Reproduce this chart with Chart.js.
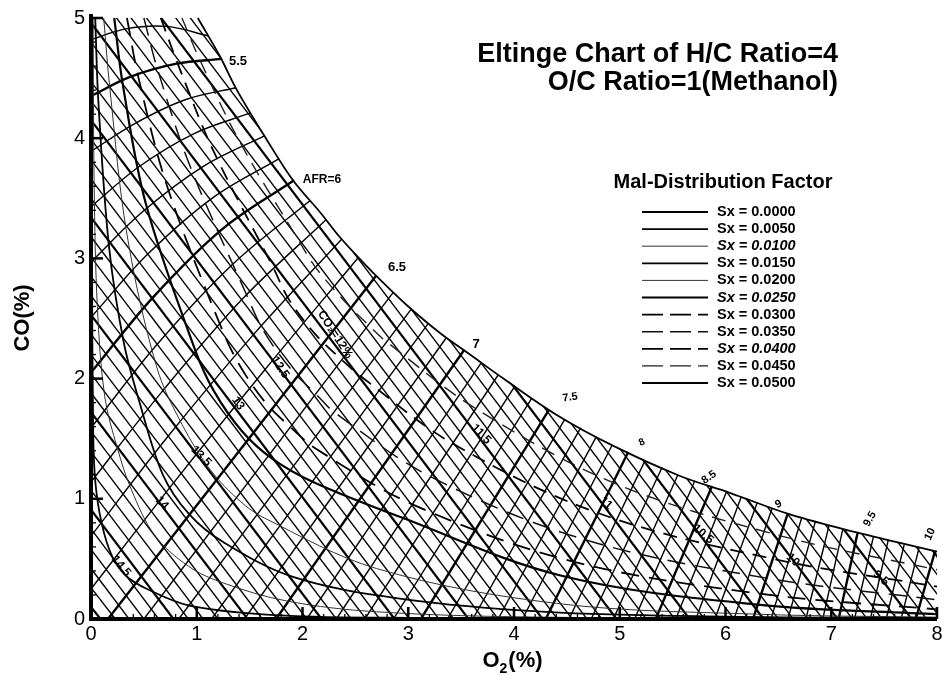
<!DOCTYPE html>
<html>
<head>
<meta charset="utf-8">
<title>Eltinge Chart</title>
<script src="https://cdn.jsdelivr.net/npm/chart.js@4.4.1/dist/chart.umd.min.js"></script>
<style>
  html, body { margin: 0; padding: 0; background: #fff; }
  #wrap { position: relative; width: 946px; height: 680px; }
</style>
</head>
<body>
<div id="wrap"><canvas id="eltinge" width="946" height="680"></canvas></div>
<script>
// x = O2 (%), y = CO (%)
const FONT = "'Liberation Sans', Arial, Helvetica, sans-serif";

// Mal-distribution curves, one array per Sx value
const sxLevels = ['0.0000', '0.0050', '0.0100', '0.0150', '0.0200', '0.0250',
                  '0.0300', '0.0350', '0.0400', '0.0450', '0.0500'];
const sx_0000 = [[0, 5.2], [0, 0], [8, 0]];
const sx_0050 = [[0.01,5.0],[0.01,3.0],[0.02,1.6],[0.04,1.15],[0.10,0.80],[0.20,0.52],[0.33,0.36],[0.53,0.25],[0.94,0.11],[1.79,0.03],[3.0,0.01],[8.0,0.005]];
const sx_0100 = [[0.02,5.0],[0.03,3.6],[0.06,2.6],[0.13,1.85],[0.25,1.42],[0.38,1.08],[0.60,0.70],[0.92,0.44],[1.25,0.30],[1.85,0.15],[2.7,0.06],[4.3,0.015],[8.0,0.005]];
const sx_0150 = [[0.04,5.0],[0.07,4.3],[0.17,3.1],[0.31,2.3],[0.46,1.80],[0.68,1.20],[0.93,0.87],[1.25,0.64],[1.91,0.35],[2.92,0.17],[4.3,0.06],[6.0,0.02],[8.0,0.008]];
const sx_0200 = [[0.12,5.0],[0.18,4.4],[0.34,3.2],[0.62,2.1],[0.86,1.62],[1.13,1.24],[1.41,0.98],[1.64,0.84],[2.7,0.42],[4.4,0.13],[6.3,0.04],[8.0,0.015]];
const sx_0250 = [[0.22,5.0],[0.30,4.45],[0.52,3.45],[0.98,2.25],[1.16,1.90],[1.43,1.56],[1.72,1.33],[2.1,1.14],[2.92,0.85],[4.45,0.36],[6.3,0.12],[8.0,0.04]];
const sx_0300 = [[0.34,5.0],[0.45,4.5],[0.72,3.6],[1.22,2.45],[1.40,2.12],[1.65,1.80],[1.92,1.57],[2.12,1.42],[3.05,0.95],[4.55,0.48],[6.33,0.21],[8.0,0.08]];
const sx_0350 = [[0.50,5.0],[0.63,4.57],[0.94,3.76],[1.47,2.70],[1.63,2.40],[1.88,2.09],[2.14,1.86],[2.30,1.72],[3.22,1.18],[4.67,0.66],[6.39,0.34],[8.0,0.16]];
const sx_0400 = [[0.66,5.0],[0.82,4.62],[1.16,3.89],[1.72,2.93],[1.87,2.66],[2.12,2.37],[2.38,2.15],[2.55,2.02],[3.42,1.46],[4.80,0.88],[6.45,0.50],[8.0,0.27]];
const sx_0450 = [[0.86,5.0],[1.03,4.65],[1.40,3.98],[1.97,3.14],[2.12,2.93],[2.38,2.66],[2.63,2.44],[2.79,2.31],[3.64,1.75],[4.95,1.13],[6.53,0.69],[8.0,0.41]];
const sx_0500 = [[1.01,5.0],[1.22,4.68],[1.38,4.40],[1.66,3.99],[1.91,3.65],[2.17,3.38],[2.35,3.18],[2.57,2.97],[2.76,2.80],[3.0,2.60],[3.3,2.38],[3.6,2.19],[3.9,2.0],[4.4,1.70],[4.94,1.44],[5.57,1.19],[6.04,1.05],[6.61,0.87],[7.24,0.72],[8.0,0.56]];
const sxCurves = [sx_0000, sx_0050, sx_0100, sx_0150, sx_0200, sx_0250,
                  sx_0300, sx_0350, sx_0400, sx_0450, sx_0500];

// Rich air/fuel ratio lines: start on the CO axis, end on the Sx=0.05 curve
const afrRichLevels = [5.4, 5.5, 5.6, 5.7, 5.8, 5.9, 6.0, 6.1, 6.2, 6.3, 6.4];
const afrRichPaths = [
  [[0,4.82],[0.33,4.91],[0.72,4.93],[1.11,4.85]],
  [[0,4.35],[0.37,4.51],[0.81,4.62],[1.24,4.66]],
  [[0,3.89],[0.41,4.12],[0.89,4.32],[1.37,4.42]],
  [[0,3.43],[0.45,3.76],[0.98,4.04],[1.51,4.21]],
  [[0,2.97],[0.49,3.39],[1.07,3.77],[1.64,4.02]],
  [[0,2.51],[0.53,3.03],[1.16,3.51],[1.78,3.83]],
  [[0,2.05],[0.58,2.67],[1.25,3.25],[1.92,3.65]],
  [[0,1.59],[0.62,2.28],[1.35,2.96],[2.07,3.48]],
  [[0,1.14],[0.67,1.89],[1.44,2.67],[2.22,3.32]],
  [[0,0.69],[0.71,1.50],[1.54,2.37],[2.37,3.16]],
  [[0,0.25],[0.76,1.11],[1.65,2.08],[2.53,3.01]]
];

// Lean air/fuel ratio lines: start on the O2 axis, end on the Sx=0.05 curve
const afrLeanLevels = [6.5, 6.6, 6.7, 6.8, 6.9, 7.0, 7.1, 7.2, 7.3, 7.4, 7.5, 7.6, 7.7, 7.8, 7.9,
                       8.0, 8.1, 8.2, 8.3, 8.4, 8.5, 8.6, 8.7, 8.8, 8.9, 9.0, 9.1, 9.2, 9.3, 9.4,
                       9.5, 9.6, 9.7, 9.8, 9.9, 10.0];
const afrLeanStartO2 = [0.16,0.50,0.83,1.14,1.45,1.75,2.04,2.32,2.59,2.86,3.12,3.37,3.61,3.85,4.08,
                        4.30,4.52,4.73,4.94,5.14,5.34,5.53,5.72,5.90,6.08,6.26,6.43,6.59,6.76,6.92,
                        7.07,7.22,7.37,7.52,7.66,7.80];
const afrLeanEnd = [[2.70,2.86],[2.86,2.72],[3.03,2.58],[3.19,2.46],[3.36,2.34],[3.53,2.24],[3.69,2.13],[3.85,2.03],
                    [4.01,1.94],[4.17,1.84],[4.33,1.74],[4.48,1.66],[4.63,1.59],[4.78,1.52],[4.93,1.45],[5.08,1.39],
                    [5.24,1.32],[5.40,1.26],[5.55,1.20],[5.71,1.15],[5.87,1.10],[6.01,1.06],[6.15,1.02],[6.30,0.97],
                    [6.44,0.92],[6.59,0.88],[6.72,0.84],[6.85,0.81],[6.98,0.78],[7.11,0.75],[7.25,0.72],[7.40,0.69],
                    [7.54,0.66],[7.69,0.62],[7.83,0.59],[7.98,0.56]];

// CO2 lines: CO axis intercept to O2 axis intercept (clipped to the Sx=0.05 region)
const co2Levels = [15.0,14.9,14.8,14.7,14.6,14.5,14.4,14.3,14.2,14.1,14.0,13.9,13.8,13.7,13.6,13.5,13.4,13.3,13.2,13.1,
                   13.0,12.9,12.8,12.7,12.6,12.5,12.4,12.3,12.2,12.1,12.0,11.9,11.8,11.7,11.6,11.5,11.4,11.3,11.2,11.1,
                   11.0,10.9,10.8,10.7,10.6,10.5,10.4,10.3,10.2,10.1,10.0,9.9,9.8,9.7,9.6,9.5,9.4,9.3,9.2,9.1,9.0];
const co2AxisCO = [0.10,0.26,0.42,0.58,0.75,0.91,1.07,1.23,1.39,1.56,1.72,1.88,2.04,2.20,2.37,2.53,2.69,2.85,3.01,3.18,
                   3.34,3.50,3.66,3.82,3.99,4.15,4.31,4.47,4.63,4.80,4.96,5.12,5.28,5.44,5.61,5.77,5.93,6.09,6.25,6.42,
                   6.58,6.74,6.90,7.06,7.23,7.39,7.55,7.71,7.87,8.04,8.20,8.36,8.52,8.68,8.85,9.01,9.17,9.33,9.49,9.66,9.82];
const co2AxisO2 = [0.09,0.23,0.36,0.50,0.64,0.78,0.92,1.06,1.20,1.34,1.48,1.62,1.76,1.90,2.04,2.18,2.32,2.46,2.60,2.73,
                   2.87,3.01,3.15,3.29,3.43,3.57,3.71,3.85,3.99,4.13,4.27,4.41,4.55,4.69,4.83,4.97,5.11,5.25,5.39,5.52,
                   5.66,5.80,5.94,6.08,6.22,6.36,6.50,6.64,6.78,6.92,7.06,7.20,7.34,7.48,7.62,7.76,7.90,8.04,8.18,8.32,8.45];

// In-plot labels
const afrLabelText = ['5.5', 'AFR=6', '6.5', '7', '7.5', '8', '8.5', '9', '9.5', '10'];
const afrLabelAt = [[1.39,4.635],[2.184,3.654],[2.894,2.924],[3.641,2.284],[4.53,1.844],
                    [5.21,1.47],[5.844,1.179],[6.501,0.955],[7.366,0.831],[7.934,0.706]];
const co2LabelText = ['14.5', '14', '13.5', '13', '12.5', 'CO\u2082=12%', '11.5', '11', '10.5', '10', '9.5'];
const co2LabelAt = [[0.284,0.44],[0.671,0.963],[1.04,1.354],[1.39,1.794],[1.787,2.093],[2.307,2.367],
                    [3.688,1.537],[4.87,0.963],[5.787,0.706],[6.638,0.49],[7.47,0.34]];

// styles
const sxWidths = [4, 1.8, 1.0, 1.8, 1.0, 2.2, 1.8, 1.5, 1.8, 1.4, 1.8];
const sxDashes = [[], [], [], [], [], [], [18, 10], [18, 10], [14, 9], [14, 9], []];
const sxColors = ['#000', '#000', '#333', '#000', '#333', '#000', '#000', '#111', '#000', '#222', '#000'];
const sxItalic = [false, false, true, false, false, true, false, false, true, false, false];
const afrLabelAngle = [0, 0, 0, 0, -8, -25, -35, -25, -60, -65];
const afrLabelSize = [13, 12, 13, 13, 11, 10, 11, 11, 11, 11];
const co2LabelAngle = [50, 45, 45, 55, 56, 57, 45, 42, 40, 42, 40];

const toXY = pts => pts.map(([x, y]) => ({ x, y }));
const isMajor = v => Math.round(v * 10) % 5 === 0;

function buildDatasets() {
  const sets = [];
  // first dataset is painted on top
  sxCurves.forEach((curve, i) => {
    sets.push({
      data: toXY(curve),
      borderColor: sxColors[i],
      borderWidth: sxWidths[i],
      borderDash: sxDashes[i],
      tension: i === 0 ? 0 : 0.35,
      clip: 4
    });
  });
  afrRichLevels.forEach((a, i) => {
    sets.push({
      data: toXY(afrRichPaths[i]),
      borderColor: '#000',
      borderWidth: isMajor(a) ? 2.4 : 1.4,
      tension: 0.35
    });
  });
  afrLeanLevels.forEach((a, i) => {
    sets.push({
      data: toXY([[afrLeanStartO2[i], 0], afrLeanEnd[i]]),
      borderColor: '#000',
      borderWidth: isMajor(a) ? 2.4 : 1.4,
      tension: 0
    });
  });
  co2Levels.forEach((c, i) => {
    sets.push({
      data: toXY([[0, co2AxisCO[i]], [co2AxisO2[i], 0]]),
      borderColor: '#000',
      borderWidth: isMajor(c) ? 2.2 : 1.35,
      tension: 0,
      clipToEnvelope: true
    });
  });
  return sets.map(s => Object.assign({ showLine: true, pointRadius: 0, fill: false }, s));
}

// keep the CO2 hatch inside the Sx = 0.05 boundary
const envelopeClip = {
  id: 'envelopeClip',
  beforeDatasetDraw(chart, args) {
    if (!chart.data.datasets[args.index].clipToEnvelope) return;
    const { ctx, scales: { x, y } } = chart;
    ctx.save();
    ctx.beginPath();
    ctx.moveTo(x.getPixelForValue(0), y.getPixelForValue(0));
    ctx.lineTo(x.getPixelForValue(0), y.getPixelForValue(5));
    sx_0500.forEach(([vx, vy]) => ctx.lineTo(x.getPixelForValue(vx), y.getPixelForValue(vy)));
    ctx.lineTo(x.getPixelForValue(8), y.getPixelForValue(0));
    ctx.closePath();
    ctx.clip();
  },
  afterDatasetDraw(chart, args) {
    if (chart.data.datasets[args.index].clipToEnvelope) chart.ctx.restore();
  }
};

function drawText(ctx, text, px, py, angle, font, align) {
  ctx.save();
  ctx.translate(px, py);
  ctx.rotate(angle * Math.PI / 180);
  ctx.font = font;
  ctx.textAlign = align || 'center';
  ctx.textBaseline = 'middle';
  ctx.fillText(text, 0, 0);
  ctx.restore();
}

const chartText = {
  id: 'chartText',
  afterDraw(chart) {
    const { ctx, scales: { x, y }, chartArea } = chart;
    ctx.save();
    ctx.fillStyle = '#000';
    ctx.strokeStyle = '#000';

    // inward ticks
    for (let i = 0; i <= 40; i++) {
      const px = x.getPixelForValue(i * 0.2);
      const major = i % 5 === 0;
      ctx.lineWidth = major ? 2.5 : 1.3;
      ctx.beginPath();
      ctx.moveTo(px, chartArea.bottom);
      ctx.lineTo(px, chartArea.bottom - (major ? 12 : 5));
      ctx.stroke();
    }
    for (let i = 0; i <= 25; i++) {
      const py = y.getPixelForValue(i * 0.2);
      const major = i % 5 === 0;
      ctx.lineWidth = major ? 2.5 : 1.3;
      ctx.beginPath();
      ctx.moveTo(chartArea.left, py);
      ctx.lineTo(chartArea.left + (major ? 12 : 5), py);
      ctx.stroke();
    }

    // labels along the curves
    afrLabelText.forEach((t, i) => {
      drawText(ctx, t, x.getPixelForValue(afrLabelAt[i][0]), y.getPixelForValue(afrLabelAt[i][1]),
        afrLabelAngle[i], `bold ${afrLabelSize[i]}px ${FONT}`);
    });
    co2LabelText.forEach((t, i) => {
      drawText(ctx, t, x.getPixelForValue(co2LabelAt[i][0]), y.getPixelForValue(co2LabelAt[i][1]),
        co2LabelAngle[i], `bold 12px ${FONT}`);
    });

    // title
    ctx.font = `bold 27px ${FONT}`;
    ctx.textAlign = 'right';
    ctx.textBaseline = 'alphabetic';
    ctx.fillText('Eltinge Chart of H/C Ratio=4', 838, 62);
    ctx.fillText('O/C Ratio=1(Methanol)', 838, 90);

    // legend
    ctx.font = `bold 20px ${FONT}`;
    ctx.textAlign = 'center';
    ctx.fillText('Mal-Distribution Factor', 723, 188);
    sxLevels.forEach((s, i) => {
      const ly = 212 + i * 17.1;
      ctx.save();
      ctx.strokeStyle = sxColors[i];
      ctx.lineWidth = Math.min(sxWidths[i], 2.2);
      ctx.setLineDash(sxDashes[i].length ? [21, 7] : []);
      ctx.beginPath();
      ctx.moveTo(642, ly);
      ctx.lineTo(708, ly);
      ctx.stroke();
      ctx.restore();
      ctx.font = `${sxItalic[i] ? 'italic ' : ''}bold 14.5px ${FONT}`;
      ctx.textAlign = 'left';
      ctx.textBaseline = 'middle';
      ctx.fillText('Sx = ' + s, 717, ly);
    });

    // axis titles
    drawText(ctx, 'CO(%)', 23, 318, -90, `bold 22px ${FONT}`);
    ctx.textBaseline = 'alphabetic';
    ctx.textAlign = 'left';
    ctx.font = `bold 22px ${FONT}`;
    const wO = ctx.measureText('O').width;
    const wP = ctx.measureText('(%)').width;
    ctx.font = `bold 14px ${FONT}`;
    const w2 = ctx.measureText('2').width;
    let tx = 512 - (wO + w2 + wP) / 2;
    ctx.font = `bold 22px ${FONT}`;
    ctx.fillText('O', tx, 667);
    ctx.font = `bold 14px ${FONT}`;
    ctx.fillText('2', tx + wO, 673);
    ctx.font = `bold 22px ${FONT}`;
    ctx.fillText('(%)', tx + wO + w2 + 1, 667);
    ctx.restore();
  }
};

window.addEventListener('load', () => {
  const ctx = document.getElementById('eltinge').getContext('2d');
  new Chart(ctx, {
    type: 'scatter',
    data: { datasets: buildDatasets() },
    options: {
      responsive: false,
      devicePixelRatio: 1,
      animation: false,
      events: [],
      layout: { padding: { top: 17, right: 9, left: 0, bottom: 0 } },
      plugins: { legend: { display: false }, tooltip: { enabled: false } },
      scales: {
        x: {
          type: 'linear', min: 0, max: 8,
          grid: { display: false, drawTicks: false },
          border: { display: false },
          ticks: { stepSize: 1, color: '#000', padding: 3, font: { family: FONT, size: 20 } },
          afterFit: s => { s.height = 61; }
        },
        y: {
          type: 'linear', min: 0, max: 5,
          grid: { display: false, drawTicks: false },
          border: { display: false },
          ticks: { stepSize: 1, color: '#000', padding: 6, font: { family: FONT, size: 20 } },
          afterFit: s => { s.height; s.width = 91; }
        }
      }
    },
    plugins: [envelopeClip, chartText]
  });
});
</script>
</body>
</html>
